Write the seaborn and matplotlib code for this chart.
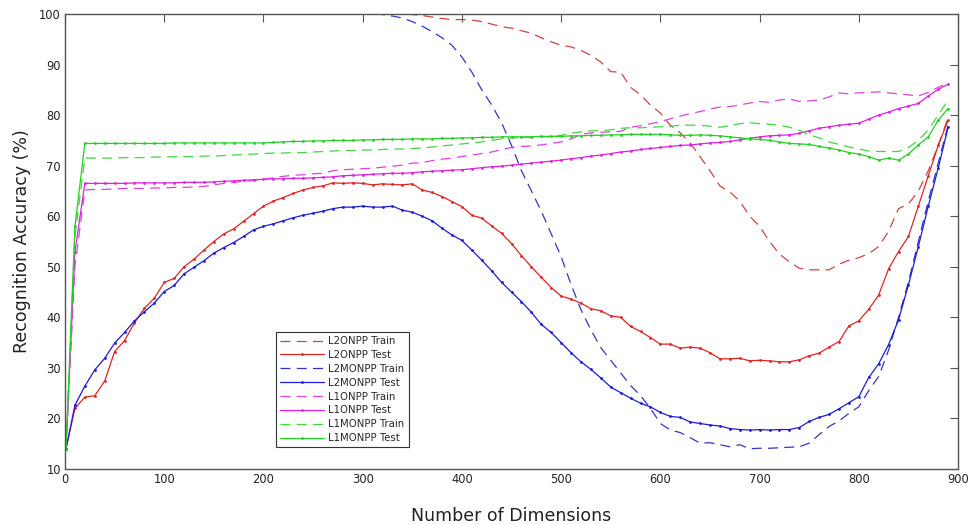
import matplotlib
matplotlib.use("Agg")
import matplotlib.pyplot as plt
import seaborn as sns
import pandas as pd

dims = [1, 10, 20, 30, 40, 50, 60, 70, 80, 90,
        100, 110, 120, 130, 140, 150, 160, 170, 180, 190,
        200, 210, 220, 230, 240, 250, 260, 270, 280, 290,
        300, 310, 320, 330, 340, 350, 360, 370, 380, 390,
        400, 410, 420, 430, 440, 450, 460, 470, 480, 490,
        500, 510, 520, 530, 540, 550, 560, 570, 580, 590,
        600, 610, 620, 630, 640, 650, 660, 670, 680, 690,
        700, 710, 720, 730, 740, 750, 760, 770, 780, 790,
        800, 810, 820, 830, 840, 850, 860, 870, 880, 890]

l2onpp_train = [100, 100, 100, 100, 100, 100, 100, 100, 100, 100,
                100, 100, 100, 100, 100, 100, 100, 100, 100, 100,
                100, 100, 100, 100, 100, 100, 100, 100, 100, 100,
                100, 100, 100, 100, 100, 99.9, 99.7, 99.4, 99.1, 98.9,
                98.9, 98.8, 98.5, 98.0, 97.5, 97.2, 96.7, 96.2, 95.3, 94.5,
                93.8, 93.5, 92.8, 91.8, 90.5, 88.6, 88.5, 85.5, 84.0, 82.0,
                80.4, 78.0, 76.5, 74.5, 71.8, 69.0, 66.0, 64.8, 63.0, 60.0,
                58.0, 55.0, 52.5, 51.0, 49.7, 49.4, 49.4, 49.4, 50.5, 51.3,
                51.8, 52.6, 54.0, 57.0, 61.5, 62.4, 65.0, 69.0, 74.0, 79.5]

l2onpp_test = [14.0, 22.0, 24.2, 24.5, 27.4, 33.2, 35.4, 38.9, 41.8, 43.8,
               46.9, 47.7, 50.0, 51.5, 53.3, 55.0, 56.5, 57.5, 59.0, 60.5,
               62.0, 63.0, 63.7, 64.5, 65.2, 65.7, 66.0, 66.6, 66.5, 66.6,
               66.5, 66.2, 66.4, 66.3, 66.2, 66.4, 65.2, 64.7, 63.9, 62.9,
               61.9, 60.2, 59.6, 58.1, 56.6, 54.6, 52.2, 50.0, 47.9, 45.9,
               44.2, 43.6, 42.8, 41.7, 41.3, 40.3, 40.0, 38.2, 37.2, 36.0,
               34.7, 34.7, 33.9, 34.1, 33.9, 33.0, 31.8, 31.8, 31.9, 31.4,
               31.5, 31.4, 31.2, 31.2, 31.6, 32.4, 32.9, 34.1, 35.2, 38.3,
               39.3, 41.6, 44.4, 49.6, 53.0, 56.0, 62.0, 68.0, 74.0, 79.0]

l2monpp_train = [100, 100, 100, 100, 100, 100, 100, 100, 100, 100,
                 100, 100, 100, 100, 100, 100, 100, 100, 100, 100,
                 100, 100, 100, 100, 100, 100, 100, 100, 100, 100,
                 100, 100, 99.9, 99.6, 99.2, 98.5, 97.6, 96.5, 95.3, 93.8,
                 91.5, 88.5, 85.0, 82.0, 78.5, 74.0, 69.0, 65.0, 61.0, 56.5,
                 52.0, 46.5, 41.5, 37.5, 34.0, 31.5, 29.0, 26.5, 24.5, 22.0,
                 19.0, 17.7, 17.2, 16.2, 15.1, 15.2, 14.8, 14.4, 14.8, 14.0,
                 14.1, 14.1, 14.2, 14.3, 14.4, 15.1, 16.8, 18.4, 19.5, 21.0,
                 22.3, 25.5, 28.3, 33.5, 40.0, 47.0, 55.0, 63.0, 70.5, 78.0]

l2monpp_test = [14.0, 22.6, 26.4, 29.6, 31.9, 34.9, 37.0, 39.3, 41.1, 42.8,
                45.1, 46.3, 48.6, 49.9, 51.2, 52.7, 53.8, 54.8, 56.0, 57.3,
                58.0, 58.5, 59.1, 59.7, 60.2, 60.6, 61.0, 61.5, 61.8, 61.8,
                62.0, 61.8, 61.8, 62.0, 61.2, 60.8, 60.0, 59.1, 57.6, 56.3,
                55.2, 53.3, 51.3, 49.2, 46.9, 45.0, 43.1, 41.0, 38.6, 37.0,
                35.0, 33.0, 31.2, 29.7, 28.0, 26.2, 25.1, 24.0, 23.0, 22.3,
                21.2, 20.4, 20.2, 19.3, 19.0, 18.7, 18.5, 18.0, 17.8, 17.7,
                17.8, 17.7, 17.8, 17.8, 18.2, 19.4, 20.2, 20.8, 21.9, 23.1,
                24.3, 28.1, 30.8, 34.6, 39.5, 46.4, 54.0, 62.0, 69.5, 77.6]

l1onpp_train = [14.0, 50.0, 65.2, 65.3, 65.3, 65.4, 65.5, 65.5, 65.5, 65.6,
                65.6, 65.7, 65.7, 65.8, 65.9, 66.2, 66.5, 66.7, 66.9, 67.1,
                67.3, 67.6, 67.9, 68.1, 68.2, 68.4, 68.5, 69.0, 69.2, 69.3,
                69.4, 69.5, 69.7, 69.9, 70.1, 70.5, 70.6, 71.0, 71.3, 71.5,
                71.8, 72.1, 72.4, 72.7, 73.2, 73.6, 73.8, 73.9, 74.1, 74.4,
                74.7, 75.3, 76.2, 76.5, 76.6, 76.7, 76.8, 77.6, 77.9, 78.3,
                78.7, 79.3, 79.8, 80.3, 80.7, 81.2, 81.6, 81.7, 82.0, 82.4,
                82.7, 82.5, 83.0, 83.2, 82.7, 82.8, 83.0, 83.6, 84.4, 84.2,
                84.4, 84.5, 84.6, 84.4, 84.2, 84.0, 83.8, 84.5, 85.5, 86.4]

l1onpp_test = [14.0, 53.0, 66.5, 66.5, 66.5, 66.5, 66.5, 66.6, 66.6, 66.6,
               66.6, 66.6, 66.7, 66.7, 66.7, 66.8, 66.9, 67.0, 67.1, 67.2,
               67.3, 67.4, 67.4, 67.5, 67.5, 67.6, 67.7, 67.8, 68.0, 68.1,
               68.2, 68.3, 68.4, 68.5, 68.5, 68.6, 68.8, 68.9, 69.0, 69.1,
               69.2, 69.4, 69.6, 69.8, 69.9, 70.1, 70.3, 70.5, 70.7, 70.9,
               71.1, 71.4, 71.6, 71.9, 72.1, 72.4, 72.7, 72.9, 73.2, 73.4,
               73.6, 73.8, 74.0, 74.1, 74.3, 74.5, 74.6, 74.8, 75.1, 75.4,
               75.7, 75.9, 76.0, 76.1, 76.4, 76.9, 77.4, 77.7, 78.0, 78.2,
               78.4, 79.2, 80.0, 80.6, 81.3, 81.8, 82.3, 83.8, 85.1, 86.1]

l1monpp_train = [14.0, 56.0, 71.5, 71.5, 71.5, 71.5, 71.6, 71.6, 71.6, 71.7,
                 71.7, 71.8, 71.8, 71.8, 71.9, 71.9, 72.0, 72.1, 72.2, 72.3,
                 72.4, 72.5, 72.5, 72.6, 72.6, 72.7, 72.8, 72.9, 73.0, 73.0,
                 73.1, 73.1, 73.2, 73.3, 73.3, 73.4, 73.5, 73.7, 73.9, 74.1,
                 74.3, 74.5, 74.7, 75.0, 75.3, 75.5, 75.6, 75.6, 75.7, 75.7,
                 76.0, 76.4, 76.7, 76.9, 76.9, 77.1, 77.4, 77.5, 77.5, 77.6,
                 77.7, 77.8, 78.0, 78.0, 78.0, 77.8, 77.6, 77.9, 78.3, 78.5,
                 78.3, 78.2, 78.0, 77.6, 77.0, 76.1, 75.5, 74.7, 74.2, 73.7,
                 73.3, 72.9, 72.8, 72.8, 72.8, 73.6, 75.0, 77.1, 80.0, 83.0]

l1monpp_test = [14.0, 58.0, 74.4, 74.4, 74.4, 74.4, 74.4, 74.4, 74.4, 74.4,
                74.4, 74.5, 74.5, 74.5, 74.5, 74.5, 74.5, 74.5, 74.5, 74.5,
                74.5, 74.6, 74.7, 74.8, 74.8, 74.9, 74.9, 75.0, 75.0, 75.0,
                75.1, 75.1, 75.2, 75.2, 75.2, 75.3, 75.3, 75.3, 75.4, 75.4,
                75.5, 75.5, 75.6, 75.6, 75.7, 75.7, 75.7, 75.7, 75.8, 75.8,
                75.8, 75.9, 75.9, 76.0, 76.0, 76.1, 76.1, 76.2, 76.2, 76.2,
                76.2, 76.1, 76.0, 76.0, 76.1, 76.0, 75.9, 75.7, 75.5, 75.3,
                75.2, 75.0, 74.7, 74.4, 74.3, 74.2, 73.8, 73.5, 73.1, 72.6,
                72.3, 71.8, 71.1, 71.5, 71.1, 72.3, 74.1, 75.7, 79.0, 81.3]

series_names = ["L2ONPP Train", "L2ONPP Test", "L2MONPP Train", "L2MONPP Test",
                "L1ONPP Train", "L1ONPP Test", "L1MONPP Train", "L1MONPP Test"]
series_values = [l2onpp_train, l2onpp_test, l2monpp_train, l2monpp_test,
                 l1onpp_train, l1onpp_test, l1monpp_train, l1monpp_test]
series_colors = ["#cc4444", "#e02424", "#3434c4", "#1c1cd8",
                 "#e040e0", "#e020e0", "#40d840", "#22d022"]

x_ticks = [0, 100, 200, 300, 400, 500, 600, 700, 800, 900]
y_ticks = [10, 20, 30, 40, 50, 60, 70, 80, 90, 100]

sns.set_style("white")
plt.rcParams["font.family"] = ["DejaVu Sans"]

fig = plt.figure(figsize=(9.76, 5.25), dpi=100)
ax = fig.add_axes([0.0666, 0.1067, 0.915, 0.8666])

for name, vals, col in zip(series_names, series_values, series_colors):
    df = pd.DataFrame({"dims": dims, "acc": vals})
    if name.endswith("Train"):
        sns.lineplot(data=df, x="dims", y="acc", ax=ax, color=col, lw=0.9,
                     linestyle=(0, (8, 5)), label=name)
    else:
        sns.lineplot(data=df, x="dims", y="acc", ax=ax, color=col, lw=0.9,
                     marker=".", markersize=4, markeredgewidth=0, label=name)

ax.set_xlim(0, 900)
ax.set_ylim(10, 100)
ax.set_xticks(x_ticks)
ax.set_yticks(y_ticks)
ax.tick_params(direction="in", length=5.5, width=0.8, color="#555555",
               labelsize=8.3, top=True, right=True, labelcolor="#222222", pad=3)
for sp in ax.spines.values():
    sp.set_color("#555555")
    sp.set_linewidth(1.0)
ax.set_xlabel("Number of Dimensions", fontsize=12.5, labelpad=15, color="#222222")
ax.set_ylabel("Recognition Accuracy (%)", fontsize=12.5, labelpad=6, color="#222222")

leg = ax.legend(loc="lower left", bbox_to_anchor=(0.236, 0.048), fontsize=7.3,
                frameon=True, fancybox=False, framealpha=1, edgecolor="#333333",
                handlelength=4.4, handletextpad=0.4, borderpad=0.4,
                labelspacing=0.38, numpoints=1, borderaxespad=0)
leg.get_frame().set_linewidth(0.8)

fig.savefig("out.png", dpi=100)
